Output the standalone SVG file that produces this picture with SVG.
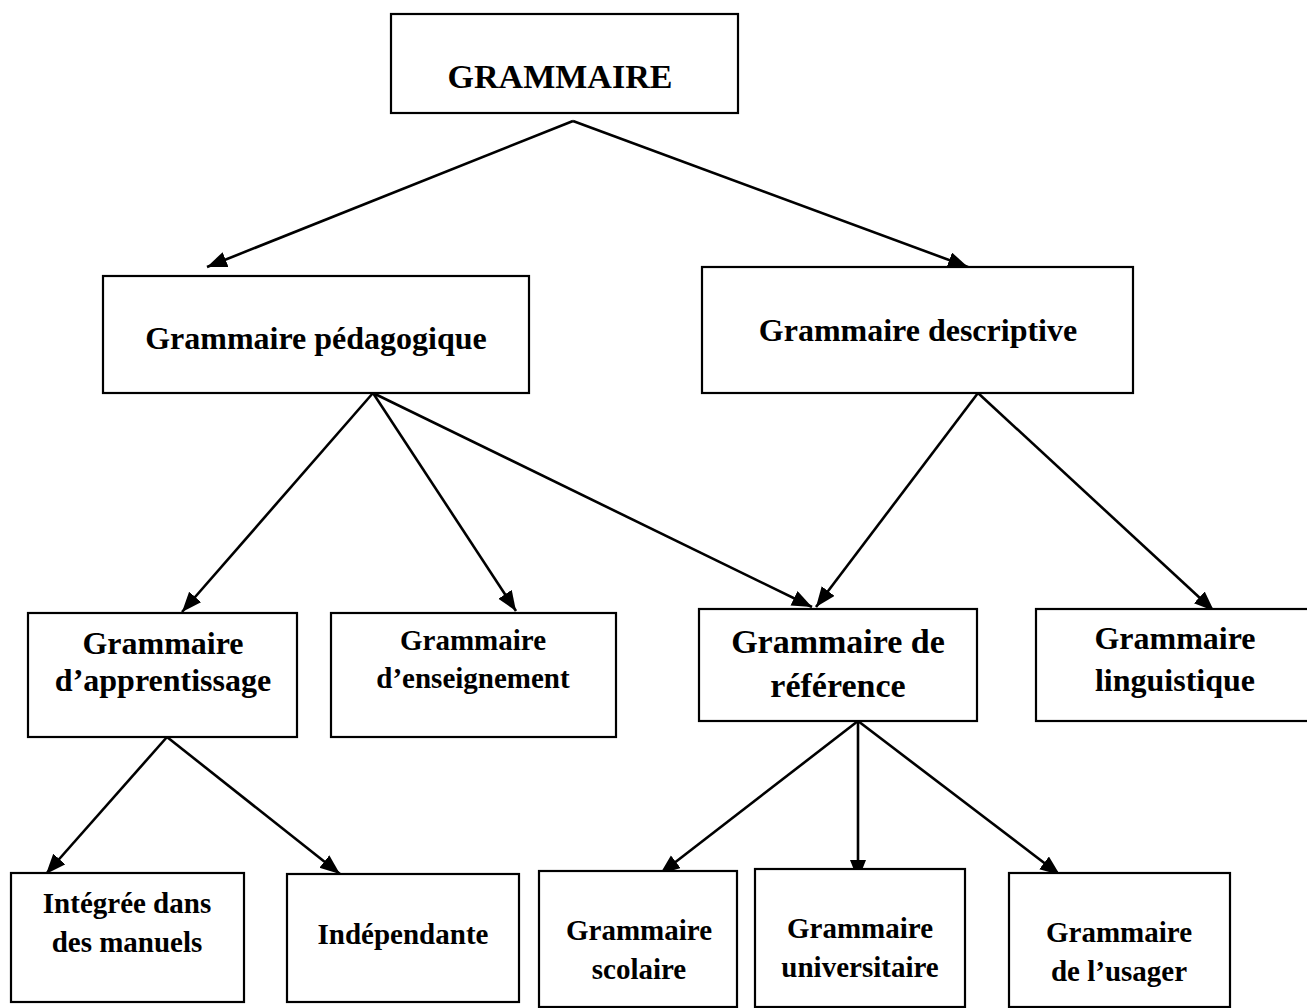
<svg xmlns="http://www.w3.org/2000/svg" width="1307" height="1008" viewBox="0 0 1307 1008">
  <style>
    .box { fill: #ffffff; stroke: #000000; stroke-width: 2.2; }
    .lbl { font-family: "Liberation Serif", "Times New Roman", serif; font-weight: bold; fill: #000000; text-anchor: middle; }
    .edge { stroke: #000000; stroke-width: 2.6; fill: none; marker-end: url(#arrow); }
  </style>
  <defs>
    <marker id="arrow" markerUnits="userSpaceOnUse" markerWidth="22" markerHeight="18" refX="20" refY="8" orient="auto">
      <path d="M0,0 L20,8 L0,16 z" fill="#000000"/>
    </marker>
  </defs>
  <rect width="1307" height="1008" fill="#ffffff"/>

  <g id="connectors">
    <line class="edge" x1="573" y1="121" x2="207" y2="267"/>
    <line class="edge" x1="573" y1="121" x2="968" y2="267"/>
    <line class="edge" x1="373" y1="393" x2="182" y2="612"/>
    <line class="edge" x1="373" y1="393" x2="516" y2="611"/>
    <line class="edge" x1="373" y1="393" x2="812" y2="607"/>
    <line class="edge" x1="978" y1="393" x2="816" y2="607"/>
    <line class="edge" x1="978" y1="393" x2="1214" y2="611"/>
    <line class="edge" x1="167" y1="737" x2="46" y2="874"/>
    <line class="edge" x1="167" y1="737" x2="340" y2="874"/>
    <line class="edge" x1="858" y1="721" x2="660" y2="874"/>
    <line class="edge" x1="858" y1="721" x2="858" y2="880"/>
    <line class="edge" x1="858" y1="721" x2="1060" y2="875"/>
  </g>

  <g id="n-grammaire">
    <rect class="box" x="391" y="14" width="347" height="99"/>
    <text class="lbl" x="560" y="88" font-size="34">GRAMMAIRE</text>
  </g>
  <g id="n-pedagogique">
    <rect class="box" x="103" y="276" width="426" height="117"/>
    <text class="lbl" x="316" y="349" font-size="32">Grammaire pédagogique</text>
  </g>
  <g id="n-descriptive">
    <rect class="box" x="702" y="267" width="431" height="126"/>
    <text class="lbl" x="918" y="341" font-size="32">Grammaire descriptive</text>
  </g>
  <g id="n-apprentissage">
    <rect class="box" x="28" y="613" width="269" height="124"/>
    <text class="lbl" x="163" y="654" font-size="32">Grammaire</text>
    <text class="lbl" x="163" y="691" font-size="32">d’apprentissage</text>
  </g>
  <g id="n-enseignement">
    <rect class="box" x="331" y="613" width="285" height="124"/>
    <text class="lbl" x="473" y="650" font-size="29">Grammaire</text>
    <text class="lbl" x="473" y="688" font-size="29">d’enseignement</text>
  </g>
  <g id="n-reference">
    <rect class="box" x="699" y="609" width="278" height="112"/>
    <text class="lbl" x="838" y="653" font-size="34">Grammaire de</text>
    <text class="lbl" x="838" y="697" font-size="34">référence</text>
  </g>
  <g id="n-linguistique">
    <rect class="box" x="1036" y="609" width="275" height="112"/>
    <text class="lbl" x="1175" y="649" font-size="32">Grammaire</text>
    <text class="lbl" x="1175" y="691" font-size="32">linguistique</text>
  </g>
  <g id="n-integree">
    <rect class="box" x="11" y="873" width="233" height="129"/>
    <text class="lbl" x="127" y="913" font-size="29">Intégrée dans</text>
    <text class="lbl" x="127" y="952" font-size="29">des manuels</text>
  </g>
  <g id="n-independante">
    <rect class="box" x="287" y="874" width="232" height="128"/>
    <text class="lbl" x="403" y="944" font-size="29">Indépendante</text>
  </g>
  <g id="n-scolaire">
    <rect class="box" x="539" y="871" width="198" height="136"/>
    <text class="lbl" x="639" y="940" font-size="29">Grammaire</text>
    <text class="lbl" x="639" y="979" font-size="29">scolaire</text>
  </g>
  <g id="n-universitaire">
    <rect class="box" x="755" y="869" width="210" height="138"/>
    <text class="lbl" x="860" y="938" font-size="29">Grammaire</text>
    <text class="lbl" x="860" y="977" font-size="29">universitaire</text>
  </g>
  <g id="n-usager">
    <rect class="box" x="1009" y="873" width="221" height="134"/>
    <text class="lbl" x="1119" y="942" font-size="29">Grammaire</text>
    <text class="lbl" x="1119" y="981" font-size="29">de l’usager</text>
  </g>
</svg>
